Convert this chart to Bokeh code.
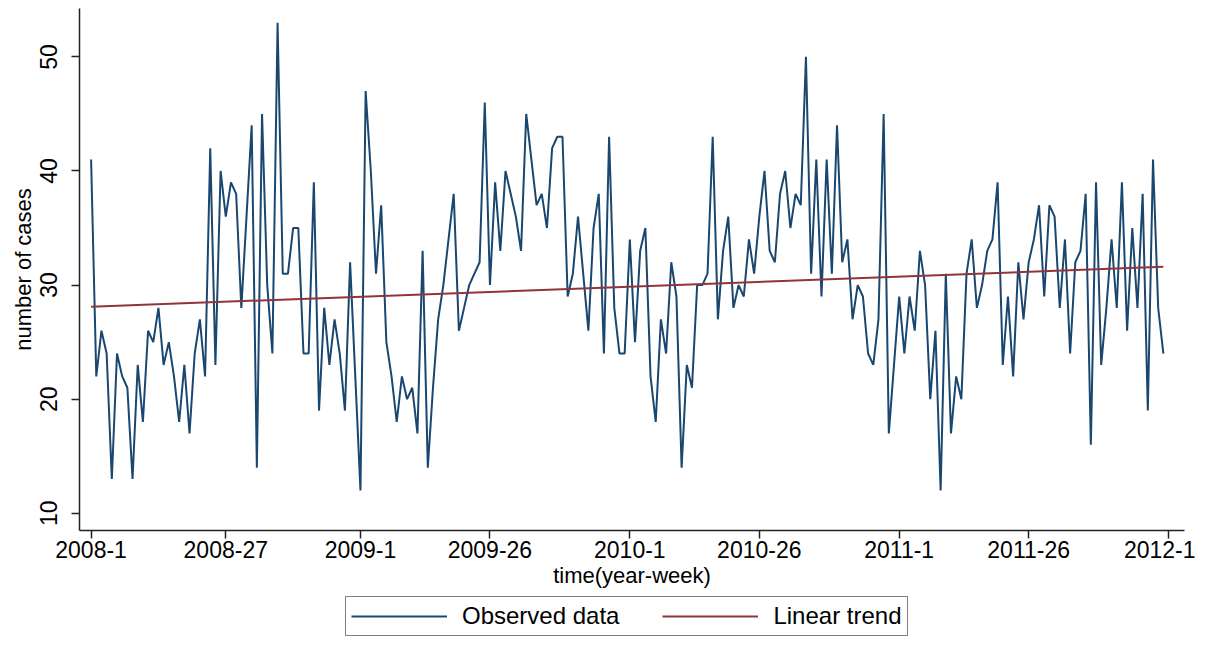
from bokeh.plotting import figure
from bokeh.layouts import column
from bokeh.models import Range1d, FixedTicker, Legend, LegendItem
from bokeh.embed import file_html
from bokeh.resources import INLINE

# weekly counts, 2008-1 ... 2011-52 (index 0..207)
cases = [
    41, 22, 26, 24, 13, 24, 22, 21, 13, 23, 18, 26, 25, 28, 23, 25, 22, 18, 23, 17, 24, 27, 22, 42, 23, 40,
    36, 39, 38, 28, 36, 44, 14, 45, 30, 24, 53, 31, 31, 35, 35, 24, 24, 39, 19, 28, 23, 27, 24, 19, 32, 22,
    12, 47, 40, 31, 37, 25, 22, 18, 22, 20, 21, 17, 33, 14, 21, 27, 30, 34, 38, 26, 28, 30, 31, 32, 46, 30,
    39, 33, 40, 38, 36, 33, 45, 41, 37, 38, 35, 42, 43, 43, 29, 31, 36, 31, 26, 35, 38, 24, 43, 28, 24, 24,
    34, 25, 33, 35, 22, 18, 27, 24, 32, 29, 14, 23, 21, 30, 30, 31, 43, 27, 33, 36, 28, 30, 29, 34, 31, 36,
    40, 33, 32, 38, 40, 35, 38, 37, 50, 31, 41, 29, 41, 31, 44, 32, 34, 27, 30, 29, 24, 23, 27, 45, 17, 23,
    29, 24, 29, 26, 33, 30, 20, 26, 12, 31, 17, 22, 20, 31, 34, 28, 30, 33, 34, 39, 23, 29, 22, 32, 27, 32,
    34, 37, 29, 37, 36, 28, 34, 24, 32, 33, 38, 16, 39, 23, 28, 34, 28, 39, 26, 35, 28, 38, 19, 41, 28, 24,
]
weeks = list(range(len(cases)))

trend_weeks = [0, 207]
trend_cases = [28.1, 31.6]

tick_weeks = [0, 26, 52, 77, 104, 129, 156, 181, 208]
tick_labels = ["2008-1", "2008-27", "2009-1", "2009-26", "2010-1",
               "2010-26", "2011-1", "2011-26", "2012-1"]
y_ticks = [10, 20, 30, 40, 50]

FONT = "Liberation Sans"
NAVY = "#1a476f"
MAROON = "#90353b"
AXIS = "#222222"

p = figure(width=1195, height=596, output_backend="svg", toolbar_location=None,
           x_range=Range1d(-2.24, 211.08), y_range=Range1d(8.49, 54.24),
           min_border_left=79, min_border_right=11, min_border_top=8, min_border_bottom=66)
p.outline_line_color = None
p.xgrid.visible = False
p.ygrid.visible = False
p.background_fill_color = "white"
p.border_fill_color = "white"

r_obs = p.line(weeks, cases, line_color=NAVY, line_width=2)
r_trend = p.line(trend_weeks, trend_cases, line_color=MAROON, line_width=2)

xa = p.xaxis[0]
xa.ticker = FixedTicker(ticks=tick_weeks)
xa.major_label_overrides = {w: l for w, l in zip(tick_weeks, tick_labels)}
xa.axis_label = "time(year-week)"
xa.major_label_standoff = 2
xa.axis_label_standoff = 2

ya = p.yaxis[0]
ya.ticker = FixedTicker(ticks=y_ticks)
ya.axis_label = "number of cases"
ya.major_label_orientation = "vertical"
ya.major_label_standoff = 14
ya.axis_label_standoff = 2

for ax in (xa, ya):
    ax.minor_tick_line_color = None
    ax.major_tick_in = 0
    ax.major_tick_out = 8
    ax.axis_line_color = AXIS
    ax.major_tick_line_color = AXIS
    ax.axis_line_width = 1.5
    ax.major_tick_line_width = 1.5
    ax.major_label_text_font = FONT
    ax.major_label_text_font_size = "23px"
    ax.major_label_text_color = "black"
    ax.axis_label_text_font = FONT
    ax.axis_label_text_font_size = "22px"
    ax.axis_label_text_font_style = "normal"
    ax.axis_label_text_color = "black"

# legend strip below the chart: same series, drawn outside its (empty) view,
# only their legend keys are visible
lg = figure(width=1195, height=41, output_backend="svg", toolbar_location=None,
            x_range=Range1d(-1000, -999), y_range=Range1d(-1000, -999),
            x_axis_type=None, y_axis_type=None, min_border=0)
lg.outline_line_color = None
lg.grid.visible = False
k_obs = lg.line(weeks, cases, line_color=NAVY, line_width=2)
k_trend = lg.line(trend_weeks, trend_cases, line_color=MAROON, line_width=2)

legend = Legend(items=[LegendItem(label="Observed data", renderers=[k_obs]),
                       LegendItem(label="Linear trend", renderers=[k_trend])],
                orientation="horizontal", location=(266, 1))
legend.label_text_font = FONT
legend.label_text_font_size = "24px"
legend.label_text_color = "black"
legend.glyph_width = 96
legend.label_standoff = 15
legend.spacing = 43
legend.padding = 5
legend.margin = 0
legend.border_line_color = "black"
legend.border_line_width = 1.5
legend.background_fill_alpha = 1.0
lg.add_layout(legend, "center")

layout = column(p, lg, spacing=0)
open("out.html", "w").write(file_html(layout, INLINE))
